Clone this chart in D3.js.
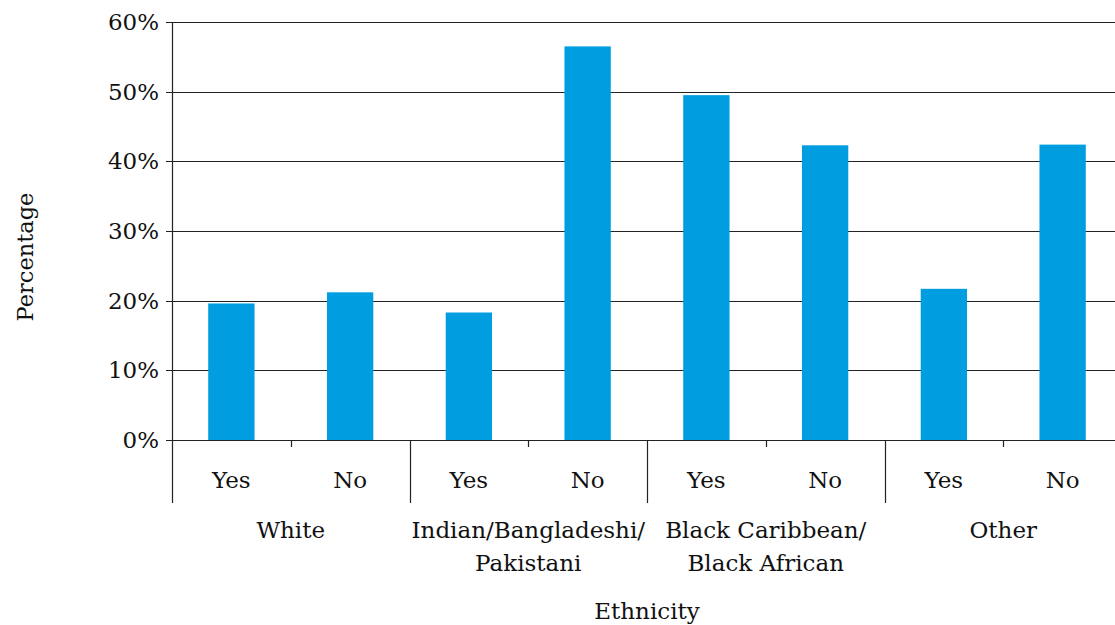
<!DOCTYPE html>
<html><head><meta charset="utf-8">
<script src="https://cdn.jsdelivr.net/npm/d3@7"></script>
<style>body{margin:0;background:#fff}svg{display:block}text{font-family:"DejaVu Serif",serif;fill:#111}</style>
</head><body><svg id="c" width="1115" height="625"></svg>
<script>
const groups = ["White", "Indian/Bangladeshi/|Pakistani", "Black Caribbean/|Black African", "Other"];
const answers = ["Yes", "No"];
const values = [19.6, 21.2, 18.3, 56.5, 49.5, 42.3, 21.7, 42.4];
const yTicks = [0, 10, 20, 30, 40, 50, 60];
const yLabel = "Percentage";
const xLabel = "Ethnicity";

const svg = d3.select("#c");
const L = 172, R = 1122, T = 22, B = 440;
const FS = 23;
const cats = [];
groups.forEach((g, gi) => answers.forEach((a, ai) => cats.push({g, gi, a, ai, key: gi + "-" + ai})));
const x = d3.scaleBand().domain(cats.map(c => c.key)).range([L, R]).paddingInner(0.61).paddingOuter(0.305);
const y = d3.scaleLinear().domain([0, 60]).range([B, T]);
const step = x.step();

// gridlines
svg.append("g").selectAll("line").data(yTicks).join("line")
  .attr("x1", L - 6).attr("x2", R).attr("y1", d => Math.round(y(d)) + 0.5).attr("y2", d => Math.round(y(d)) + 0.5)
  .attr("stroke", "#222").attr("stroke-width", 1.2);
svg.append("g").selectAll("text").data(yTicks).join("text")
  .attr("x", 159).attr("y", d => y(d) + 8).attr("text-anchor", "end").attr("font-size", FS).text(d => d + "%");

// bars
svg.append("g").selectAll("rect").data(cats).join("rect")
  .attr("x", c => x(c.key)).attr("width", x.bandwidth())
  .attr("y", (c, i) => y(values[i])).attr("height", (c, i) => B - y(values[i]))
  .attr("fill", "#009DE0");

// axes lines
svg.append("line").attr("x1", L + 0.5).attr("x2", L + 0.5).attr("y1", T).attr("y2", 503).attr("stroke", "#222").attr("stroke-width", 1.2);
// separators
const seps = d3.range(1, 8).map(i => ({xv: L + i * step, long: i % 2 === 0}));
svg.append("g").selectAll("line").data(seps).join("line")
  .attr("x1", d => Math.round(d.xv) + 0.5).attr("x2", d => Math.round(d.xv) + 0.5)
  .attr("y1", B).attr("y2", d => d.long ? 503 : 447).attr("stroke", "#222").attr("stroke-width", 1.2);

// Yes/No labels
svg.append("g").selectAll("text").data(cats).join("text")
  .attr("x", c => x(c.key) + x.bandwidth() / 2).attr("y", 488).attr("text-anchor", "middle").attr("font-size", FS).text(c => c.a);

// group labels
groups.forEach((g, gi) => {
  const cx = L + (gi * 2 + 1) * step;
  const t = svg.append("text").attr("x", cx).attr("y", 538).attr("text-anchor", "middle").attr("font-size", FS);
  g.split("|").forEach((ln, li) => t.append("tspan").attr("x", cx).attr("dy", li ? 33 : 0).text(ln));
});

svg.append("text").attr("x", 647).attr("y", 619).attr("text-anchor", "middle").attr("font-size", FS).text(xLabel);
svg.append("text").attr("transform", "translate(33,257) rotate(-90)").attr("text-anchor", "middle").attr("font-size", 22.5).text(yLabel);
</script></body></html>
